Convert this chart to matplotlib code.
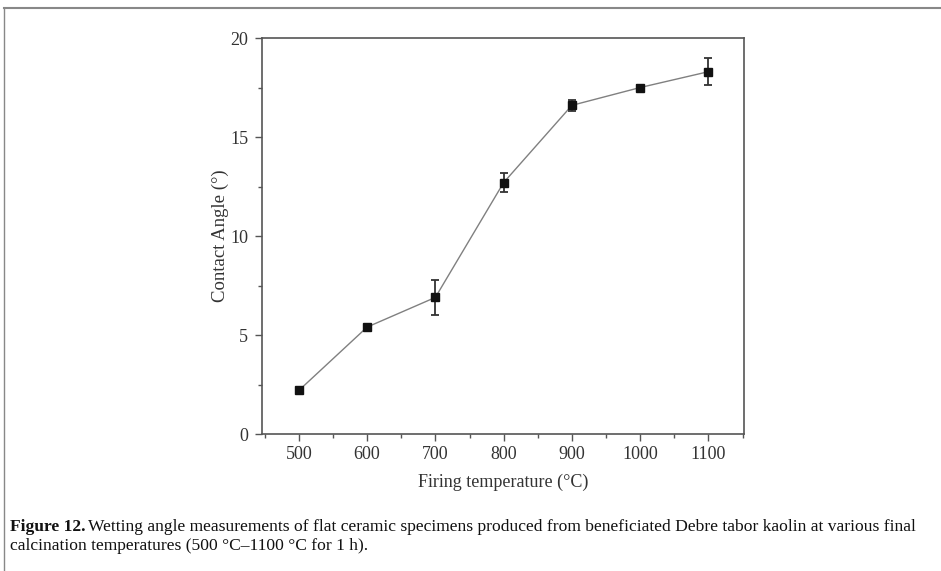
import matplotlib.pyplot as plt
from matplotlib.lines import Line2D
from matplotlib.ticker import MultipleLocator

plt.rcParams["font.family"] = ["Liberation Serif", "DejaVu Serif"]

# Contact angle vs. firing temperature
temperature = [500, 600, 700, 800, 900, 1000, 1100]
contact_angle = [2.2, 5.4, 6.9, 12.7, 16.6, 17.5, 18.3]
angle_err = [0.0, 0.0, 0.9, 0.5, 0.28, 0.12, 0.68]

fig = plt.figure(figsize=(9.41, 5.71), dpi=100)
ax = fig.add_axes([0.2784, 0.2399, 0.5122, 0.6935])

ax.plot(temperature, contact_angle, color="#808080", linewidth=1.0, zorder=2)
ax.errorbar(
    temperature, contact_angle, yerr=angle_err, fmt="none",
    ecolor="#333333", elinewidth=1.3, capsize=3, capthick=1.3, zorder=3,
)
ax.plot(temperature, contact_angle, linestyle="none", marker="s",
        markersize=6, color="#111111", zorder=4)

ax.set_xlim(446, 1152)
ax.set_ylim(0, 20)
ax.xaxis.set_major_locator(MultipleLocator(100))
ax.xaxis.set_minor_locator(MultipleLocator(50))
ax.yaxis.set_major_locator(MultipleLocator(5))
ax.yaxis.set_minor_locator(MultipleLocator(2.5))
ax.tick_params(which="major", direction="out", length=5, width=1,
               color="#555555", labelsize=13, labelcolor="#333333")
ax.tick_params(axis="y", which="major", pad=5)
ax.tick_params(which="minor", direction="out", length=3, width=1,
               color="#555555")
for sp in ax.spines.values():
    sp.set_color("#555555")
    sp.set_linewidth(1.2)

ax.set_xlabel("Firing temperature (°C)", fontsize=13, color="#333333", labelpad=8)
ax.set_ylabel("Contact Angle (°)", fontsize=13.5, color="#333333")
ax.yaxis.set_label_coords(-0.068, 0.5)

# page frame
fig.add_artist(Line2D([4 / 941, 1], [1 - 8 / 571, 1 - 8 / 571],
                      transform=fig.transFigure, color="#888888", linewidth=1.5))
fig.add_artist(Line2D([4 / 941, 4 / 941], [0, 1 - 8 / 571],
                      transform=fig.transFigure, color="#888888", linewidth=1.0))

cap = fig.text(10 / 941, 1 - 527 / 571, "Figure 12.", fontsize=12.6,
               fontweight="bold", color="#111111", va="center", ha="left")
fig.canvas.draw()
bb = cap.get_window_extent()
x1 = (bb.x1 + 2) / fig.bbox.width
fig.text(x1, 1 - 527 / 571,
         "Wetting angle measurements of flat ceramic specimens produced from "
         "beneficiated Debre tabor kaolin at various final",
         fontsize=12.6, color="#111111", va="center", ha="left")
fig.text(10 / 941, 1 - 546 / 571,
         "calcination temperatures (500 °C–1100 °C for 1 h).",
         fontsize=12.6, color="#111111", va="center", ha="left")

fig.savefig("out.png", dpi=100, facecolor="white")
